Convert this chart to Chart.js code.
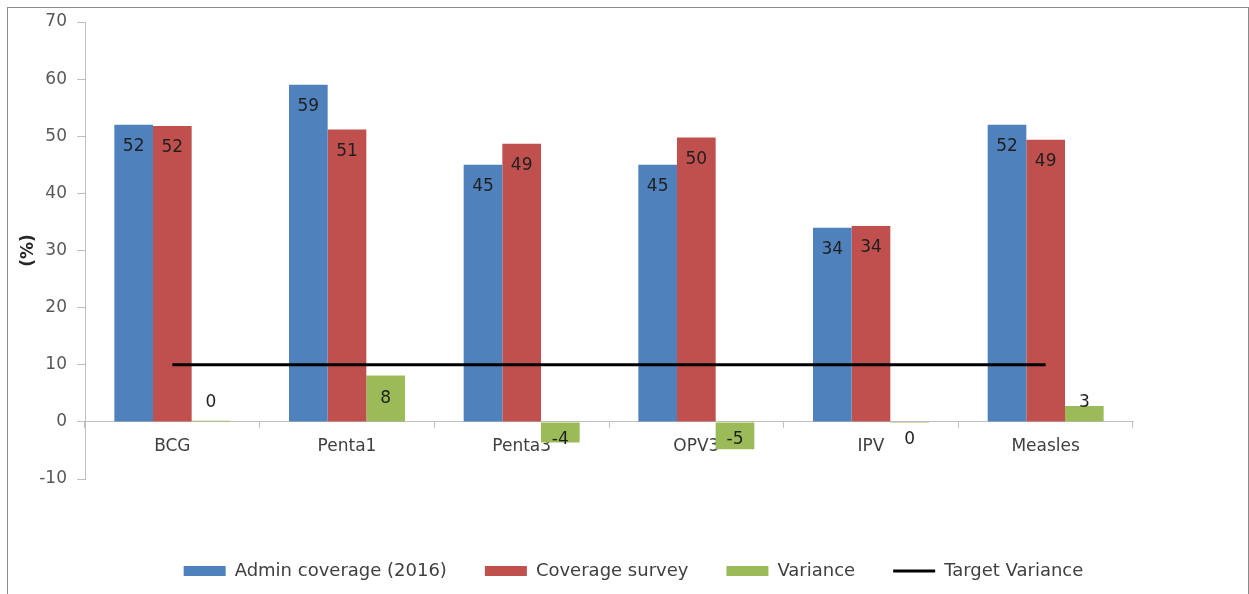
<!DOCTYPE html>
<html>
<head>
<meta charset="utf-8">
<script src="https://cdn.jsdelivr.net/npm/chart.js@4.4.0/dist/chart.umd.min.js"></script>
<style>
  html, body { margin: 0; padding: 0; background: #fff; }
  #wrap { position: absolute; left: 0; top: 0; width: 1249px; height: 594px; }
  #frame { position: absolute; left: 7px; top: 7px; width: 1240px; height: 600px;
           border: 1px solid #8a8a8a; pointer-events: none; }
</style>
</head>
<body>
<div id="wrap"><canvas id="chart" width="1249" height="594"></canvas></div>
<div id="frame"></div>
<script>
  // datos
  const categories = ['BCG', 'Penta1', 'Penta3', 'OPV3', 'IPV', 'Measles'];
  const adminCoverage = [52, 59, 45, 45, 34, 52];
  const coverageSurvey = [51.8, 51.2, 48.7, 49.8, 34.3, 49.4];
  const variance = [0.2, 8.1, -3.6, -4.8, -0.2, 2.8];
  const targetVariance = [10, 10, 10, 10, 10, 10];
  const yMin = -10, yMax = 70, yStep = 10;

  const FONT = 'DejaVu Sans';

  // etiquetas de valor sobre las barras
  const barLabels = {
    id: 'barLabels',
    afterDatasetsDraw(chart) {
      const ctx = chart.ctx;
      const zero = chart.scales.y.getPixelForValue(0);
      ctx.save();
      ctx.font = '17px "' + FONT + '"';
      ctx.fillStyle = '#1f1f1f';
      ctx.textAlign = 'center';
      ctx.textBaseline = 'middle';
      chart.data.datasets.forEach((ds, i) => {
        if (ds.type === 'line') return;
        chart.getDatasetMeta(i).data.forEach((bar, j) => {
          const v = ds.data[j];
          let y;
          if (i < 2) {
            y = bar.y + 22;
          } else {
            const mid = (bar.y + zero) / 2;
            y = v >= 0 ? Math.min(mid, zero - 19) : Math.max(mid, zero + 18);
          }
          ctx.fillText(String(Math.round(v)), bar.x, y);
        });
      });
      ctx.restore();
    }
  };

  const ctx = document.getElementById('chart').getContext('2d');
  new Chart(ctx, {
    type: 'bar',
    data: {
      labels: categories,
      datasets: [
        { label: 'Admin coverage (2016)', data: adminCoverage, backgroundColor: '#4F81BD', order: 1 },
        { label: 'Coverage survey', data: coverageSurvey, backgroundColor: '#C0504D', order: 1 },
        { label: 'Variance', data: variance, backgroundColor: '#9BBB59', order: 1 },
        { label: 'Target Variance', data: targetVariance, type: 'line', borderColor: '#000',
          backgroundColor: '#000', borderWidth: 3, pointRadius: 0, order: 0 }
      ]
    },
    options: {
      responsive: false,
      animation: false,
      layout: { padding: { left: 18, top: 22, right: 0, bottom: 4 } },
      datasets: { bar: { categoryPercentage: 0.664, barPercentage: 1, borderWidth: 0 } },
      scales: {
        x: {
          position: { y: 0 },
          grid: { drawOnChartArea: false, drawTicks: true, tickLength: 6, color: '#bfbfbf', offset: true },
          border: { color: '#bfbfbf' },
          ticks: { color: '#404040', font: { family: FONT, size: 17 }, padding: 9 }
        },
        y: {
          min: yMin, max: yMax,
          ticks: { stepSize: yStep, color: '#595959', font: { family: FONT, size: 17 }, padding: 10 },
          grid: { drawOnChartArea: false, drawTicks: true, tickLength: 8, color: '#bfbfbf' },
          border: { color: '#bfbfbf' },
          title: { display: true, text: '(%)', color: '#262626', padding: 0,
                   font: { family: FONT, size: 17, weight: 'bold' } },
          afterFit: s => { s.width = 67; }
        },
        // ejes vacios solo para dejar espacio
        y2: {
          position: 'right', display: true,
          ticks: { display: false }, grid: { display: false }, border: { display: false },
          afterFit: s => { s.width = 116; }
        },
        x2: {
          type: 'linear', position: 'bottom', display: true,
          ticks: { display: false }, grid: { display: false }, border: { display: false },
          afterFit: s => { s.height = 45; }
        }
      },
      plugins: {
        legend: {
          position: 'bottom',
          labels: {
            color: '#404040',
            font: { family: FONT, size: 18 },
            usePointStyle: true,
            pointStyleWidth: 42,
            boxHeight: 10,
            padding: 38,
            sort: (a, b) => a.datasetIndex - b.datasetIndex,
            generateLabels(chart) {
              const items = Chart.defaults.plugins.legend.labels.generateLabels(chart);
              items.forEach(it => {
                it.pointStyle = chart.data.datasets[it.datasetIndex].type === 'line' ? 'line' : 'rect';
              });
              return items;
            }
          }
        },
        tooltip: { enabled: false }
      }
    },
    plugins: [barLabels]
  });
</script>
</body>
</html>
